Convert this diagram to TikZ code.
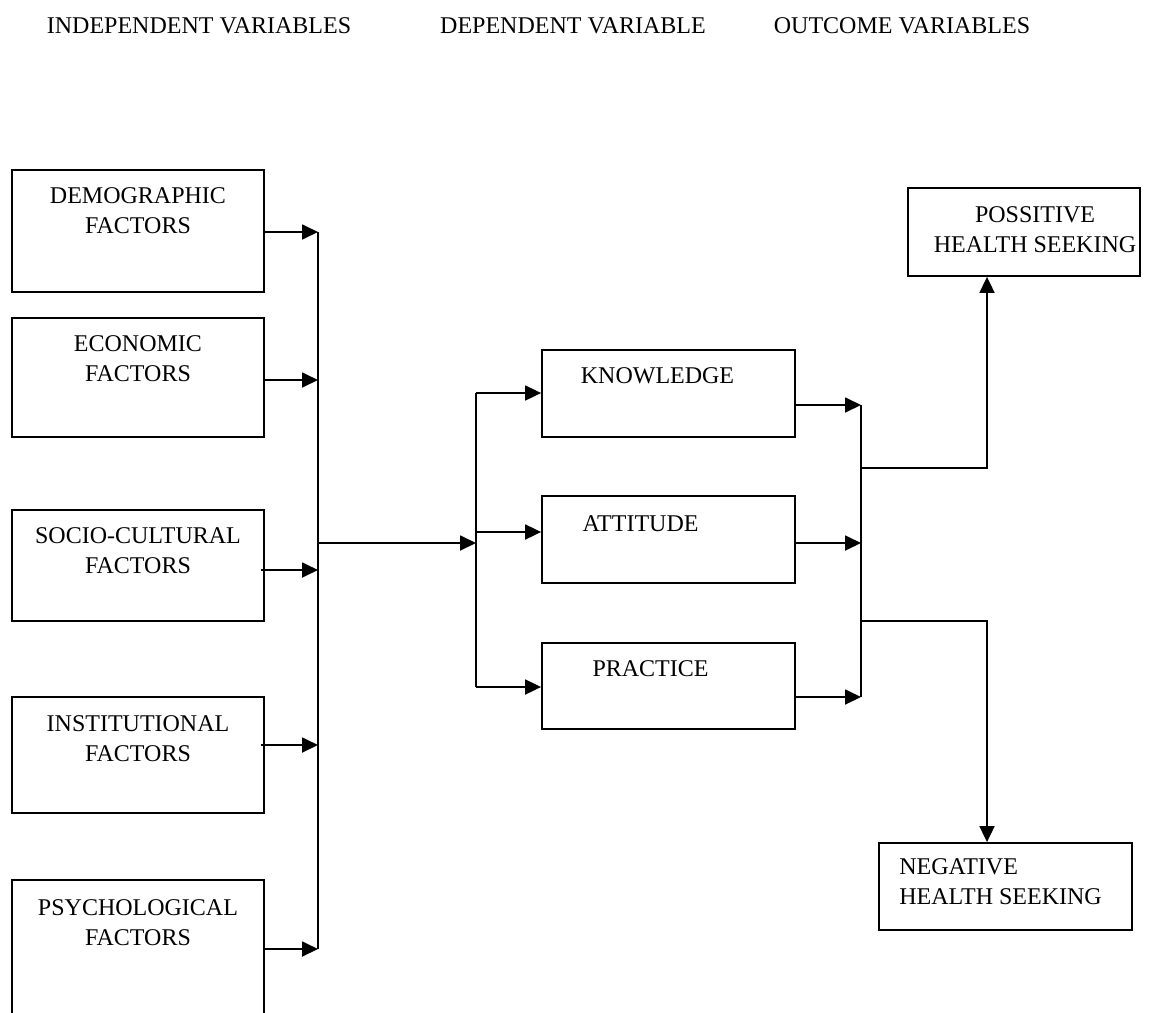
\documentclass[tikz,border=0pt]{standalone}
\usepackage{fontspec}
\setmainfont{Liberation Serif}
\usetikzlibrary{arrows.meta,positioning}

\begin{document}
\begin{tikzpicture}[x=1pt,y=-1pt,font=\fontsize{24}{30}\selectfont,
        box/.style={draw,line width=1.8pt,minimum width=252pt,inner sep=0pt},
        lbl/.style={align=center,anchor=north,inner sep=0pt,yshift=-18pt},
        arr/.style={-{Triangle[length=16pt,width=15pt]},line width=1.8pt},
        bus/.style={line width=1.8pt}]
        \useasboundingbox (0,0) rectangle (1156,1012);
        \clip (0,0) rectangle (1156,1012);
        \node (hind) at (199,26) {INDEPENDENT VARIABLES};
        \node (hdep) at (573,26) {DEPENDENT VARIABLE};
        \node (hout) at (902,26) {OUTCOME VARIABLES};
        \node[box,minimum height=122pt,label={[lbl]north:DEMOGRAPHIC\\FACTORS}] (demo) at (138,231) {};
        \node[box,minimum height=119pt,label={[lbl]north:ECONOMIC\\FACTORS}] (econ) at (138,377.5) {};
        \node[box,minimum height=111pt,label={[lbl]north:SOCIO-CULTURAL\\FACTORS}] (socio) at (138,565.5) {};
        \node[box,minimum height=116pt,label={[lbl,yshift=-1pt]north:INSTITUTIONAL\\FACTORS}] (inst) at (138,755) {};
        \node[box,minimum height=200pt,label={[lbl,yshift=-2pt]north:PSYCHOLOGICAL\\FACTORS}] (psych) at (138,980) {};
        \node[box,minimum width=253pt,minimum height=87pt,label={[lbl,xshift=-11pt]north:KNOWLEDGE}] (know) at (668.5,393.5) {};
        \node[box,minimum width=253pt,minimum height=87pt,label={[lbl,xshift=-28pt,yshift=-2pt]north:ATTITUDE}] (att) at (668.5,539.5) {};
        \node[box,minimum width=253pt,minimum height=86pt,label={[lbl,xshift=-18pt]north:PRACTICE}] (prac) at (668.5,686) {};
        \node[box,minimum width=232pt,minimum height=88pt,label={[lbl,xshift=11pt,yshift=-1pt]north:POSSITIVE\\HEALTH SEEKING}] (pos) at (1024,232) {};
        \node[box,minimum width=253pt,minimum height=87pt,label={[lbl,align=left,anchor=north west,xshift=21pt,yshift=2pt]north west:NEGATIVE\\HEALTH SEEKING}] (neg) at (1005.5,886.5) {};
        \coordinate (b1) at (318,232);
        \coordinate (b2) at (318,380);
        \coordinate (b3) at (318,570);
        \coordinate (b4) at (318,745);
        \coordinate (b5) at (318,949);
        \coordinate (m1) at (318,543);
        \coordinate (m2) at (476,543);
        \coordinate (k1) at (476,393);
        \coordinate (k2) at (476,532);
        \coordinate (k3) at (476,687);
        \coordinate (r1) at (861,405);
        \coordinate (r2) at (861,543);
        \coordinate (r3) at (861,697);
        \coordinate (up) at (861,468);
        \coordinate (dn) at (861,621);
        \coordinate (upc) at (987,468);
        \coordinate (dnc) at (987,621);
        \draw[arr] (demo.east |- b1) -- (b1);
        \draw[arr] (econ.east |- b2) -- (b2);
        \draw[arr] ([xshift=-4pt]socio.east |- b3) -- (b3);
        \draw[arr] ([xshift=-4pt]inst.east |- b4) -- (b4);
        \draw[arr] (psych.east |- b5) -- (b5);
        \draw[bus] (b1) -- (b5);
        \draw[arr] (m1) -- (m2);
        \draw[bus] (k1) -- (k3);
        \draw[arr] (k1) -- (know.west |- k1);
        \draw[arr] (k2) -- (att.west |- k2);
        \draw[arr] (k3) -- (prac.west |- k3);
        \draw[arr] (know.east |- r1) -- (r1);
        \draw[arr] (att.east |- r2) -- (r2);
        \draw[arr] (prac.east |- r3) -- (r3);
        \draw[bus] (r1) -- (r3);
        \draw[arr] (up) -- (upc) -- (upc |- pos.south);
        \draw[arr] (dn) -- (dnc) -- (dnc |- neg.north);
      \end{tikzpicture}
\end{document}
